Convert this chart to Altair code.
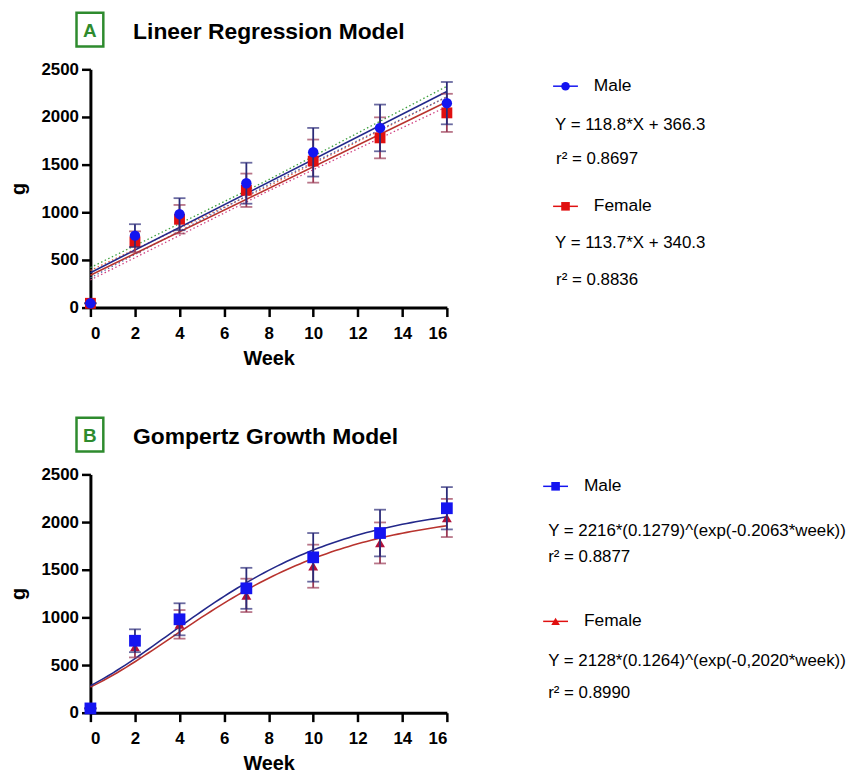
import altair as alt
import numpy as np
import pandas as pd

# ---------------- data ----------------
weeks = [0, 2, 4, 7, 10, 13, 16]
male_mean = [45, 755, 980, 1305, 1630, 1885, 2145]
male_sd = [0, 120, 168, 215, 255, 245, 222]
female_mean = [45, 690, 927, 1231, 1537, 1781, 2043]
female_sd = [0, 110, 150, 175, 226, 215, 200]

# linear fits (from the equations printed on the chart)
lin_slope = {"Male": 118.8, "Female": 113.7}
lin_icept = {"Male": 366.3, "Female": 340.3}
fit_range = [0, 16]

# 95% confidence band lines (weeks 0, 8, 16)
band_weeks = [0, 8, 16]
male_band_hi = [420, 1342, 2322]
male_band_lo = [312, 1292, 2212]
female_band_hi = [390, 1275, 2210]
female_band_lo = [290, 1225, 2108]

# Gompertz fits (from the equations printed on the chart)
gomp_A = {"Male": 2216, "Female": 2128}
gomp_b = {"Male": 0.1279, "Female": 0.1264}
gomp_k = {"Male": 0.2063, "Female": 0.2020}
gomp_r2 = {"Male": "0.8877", "Female": "0.8990"}
gomp_eq = {"Male": "Y = 2216*(0.1279)^(exp(-0.2063*week))",
           "Female": "Y = 2128*(0.1264)^(exp(-0,2020*week))"}

# ---------------- styling ----------------
FONT = "Liberation Sans"
W, H = 359, 240
C_MALE = "#1414f0"
C_MALE_ERR = "#2b2b78"
C_MALE_LINE = "#23288a"
C_FEM = "#e01010"
C_FEM_TRI = "#b0103a"
C_FEM_ERR = "#9a3a55"
C_FEM_LINE = "#b8332e"
GREEN = "#2e8b2e"
DX = 3  # horizontal offset of the annotation block

obs = pd.DataFrame({
    "week": weeks * 2,
    "sex": ["Male"] * len(weeks) + ["Female"] * len(weeks),
    "mean": male_mean + female_mean,
    "sd": male_sd + female_sd,
})
obs["lo"] = obs["mean"] - obs["sd"]
obs["hi"] = obs["mean"] + obs["sd"]

xscale = alt.Scale(domain=[0, 16], nice=False)
yscale = alt.Scale(domain=[0, 2500], nice=False)
AX = dict(grid=False, domainColor="black", domainWidth=3, tickColor="black",
          tickWidth=2.5, tickSize=9, labelFont=FONT, labelFontSize=17,
          labelFontWeight="bold", labelColor="black",
          titleFont=FONT, titleFontSize=20, titleFontWeight="bold",
          titleColor="black", format="d")
xaxis = alt.Axis(values=list(range(0, 17, 2)), title="Week", labelPadding=9,
                 titlePadding=7, **AX)
yaxis = alt.Axis(values=list(range(0, 2501, 500)), title="g", labelPadding=3,
                 titlePadding=13, **AX)

one = alt.Data(values=[{}])


def X(field="week"):
    return alt.X(f"{field}:Q", scale=xscale, axis=xaxis)


def Y(field):
    return alt.Y(f"{field}:Q", scale=yscale, axis=yaxis)


def text(t, x, y, size=17, weight="normal", color="black", align="left"):
    return alt.Chart(one).mark_text(
        text=t, font=FONT, fontSize=size, fontWeight=weight, color=color,
        align=align, baseline="middle"
    ).encode(x=alt.value(x), y=alt.value(y))


def header(letter, title):
    box = alt.Chart(one).mark_rect(fill="white", stroke=GREEN, strokeWidth=2.5).encode(
        x=alt.value(-14 + DX - 3), x2=alt.value(13 + DX - 3),
        y=alt.value(-57), y2=alt.value(-23))
    return [box,
            text(letter, -0.5 + DX - 3, -39, 19, "bold", GREEN, "center"),
            text(title, 43 + DX - 3, -38, 23, "bold")]


def legend_item(label, shape, color, y, xl):
    line = alt.Chart(one).mark_rule(color=color, strokeWidth=1.5).encode(
        x=alt.value(xl), x2=alt.value(xl + 25), y=alt.value(y))
    pt = alt.Chart(one).mark_point(shape=shape, filled=True, opacity=1, color=color,
                                   size=75).encode(x=alt.value(xl + 12.5), y=alt.value(y))
    return [line, pt, text(label, xl + 41, y, 17.5)]


def errbars(sex, color):
    d = obs[obs["sex"] == sex]
    return alt.Chart(d).mark_errorbar(ticks=True, size=12, thickness=1.8, color=color).encode(
        x=X(), y=Y("lo"), y2="hi:Q")


def points(sex, shape, color, size):
    d = obs[obs["sex"] == sex]
    return alt.Chart(d).mark_point(shape=shape, filled=True, opacity=1, color=color,
                                   size=size).encode(x=X(), y=Y("mean"))


def curve(df, color, dash=None, width=1.6):
    kw = dict(color=color, strokeWidth=width)
    if dash:
        kw["strokeDash"] = dash
    return alt.Chart(df).mark_line(**kw).encode(x=X(), y=Y("g"))


# ---------------- panel A ----------------
lin_layers = []
for sex, col in [("Female", C_FEM_LINE), ("Male", C_MALE_LINE)]:
    df = pd.DataFrame({"week": fit_range,
                       "g": [lin_icept[sex] + lin_slope[sex] * w for w in fit_range]})
    lin_layers.append(curve(df, col))

bands = [
    curve(pd.DataFrame({"week": band_weeks, "g": female_band_hi}), "#e0603c", [1.5, 2.5], 1.3),
    curve(pd.DataFrame({"week": band_weeks, "g": female_band_lo}), "#d04080", [1.5, 2.5], 1.3),
    curve(pd.DataFrame({"week": band_weeks, "g": male_band_hi}), "#3fa03f", [1.5, 2.5], 1.3),
    curve(pd.DataFrame({"week": band_weeks, "g": male_band_lo}), "#5566aa", [1.5, 2.5], 1.3),
]

panelA = alt.layer(
    *bands,
    *lin_layers,
    errbars("Female", C_FEM_ERR),
    points("Female", "square", C_FEM, 120),
    errbars("Male", C_MALE_ERR),
    points("Male", "circle", C_MALE, 110),
    *header("A", "Lineer Regression Model"),
    *legend_item("Male", "circle", C_MALE, 17, 463 + DX),
    text("Y = 118.8*X + 366.3", 465 + DX, 56),
    text("r² = 0.8697", 466 + DX, 90),
    *legend_item("Female", "square", C_FEM, 138, 463 + DX),
    text("Y = 113.7*X + 340.3", 465 + DX, 175),
    text("r² = 0.8836", 466 + DX, 212),
).properties(width=W, height=H)

# ---------------- panel B ----------------
gw = np.linspace(0, 16, 81)
gomp_layers = []
for sex, col in [("Female", C_FEM_LINE), ("Male", C_MALE_LINE)]:
    g = gomp_A[sex] * gomp_b[sex] ** np.exp(-gomp_k[sex] * gw)
    gomp_layers.append(curve(pd.DataFrame({"week": gw, "g": g}), col))

panelB = alt.layer(
    *gomp_layers,
    errbars("Female", C_FEM_ERR),
    points("Female", "triangle-up", C_FEM_TRI, 100),
    errbars("Male", C_MALE_ERR),
    points("Male", "square", C_MALE, 140),
    *header("B", "Gompertz Growth Model"),
    *legend_item("Male", "square", C_MALE, 12, 453 + DX),
    text(gomp_eq["Male"], 458 + DX, 57),
    text("r² = " + gomp_r2["Male"], 458 + DX, 83),
    *legend_item("Female", "triangle-up", C_FEM, 148, 453 + DX),
    text(gomp_eq["Female"], 458 + DX, 188),
    text("r² = " + gomp_r2["Female"], 458 + DX, 220),
).properties(width=W, height=H)

chart = alt.vconcat(panelA, panelB, spacing=48).properties(
    padding={"left": 0, "top": 0, "right": 0, "bottom": 0}
).configure_view(stroke=None)

chart.save("out.html", embed_options={"renderer": "svg", "actions": False})
